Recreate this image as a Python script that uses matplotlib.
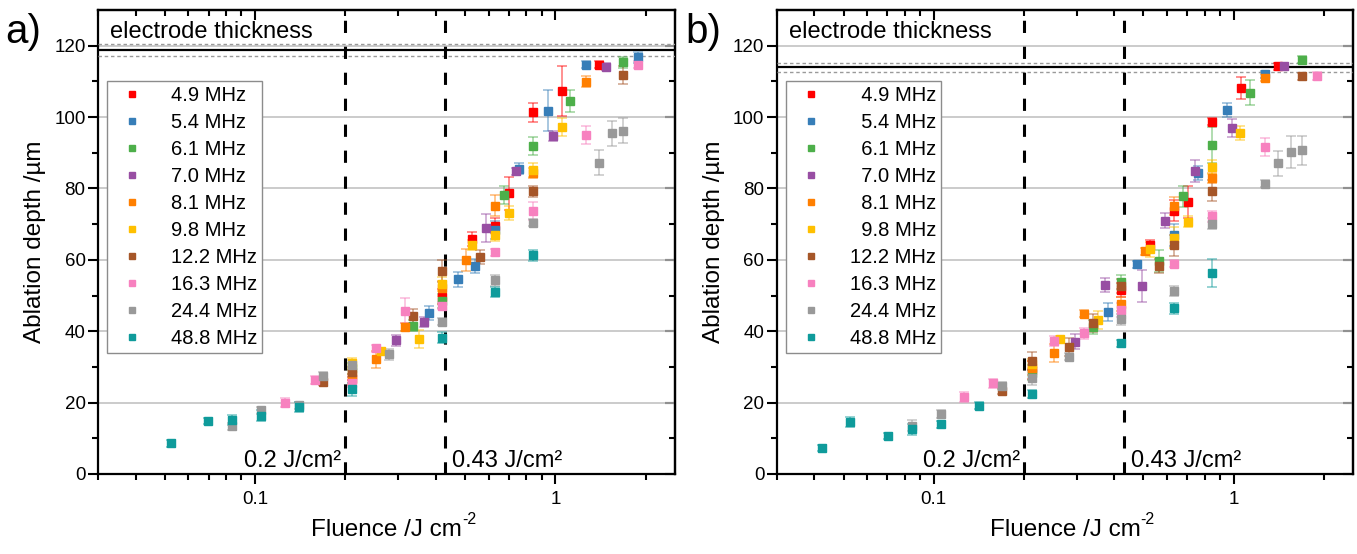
import numpy as np
import matplotlib
matplotlib.use('Agg')
import matplotlib.pyplot as plt
from matplotlib.lines import Line2D
from matplotlib.colors import to_rgba
from matplotlib.ticker import LogLocator, NullFormatter, FixedLocator

plt.rcParams['font.family'] = ['Liberation Sans', 'DejaVu Sans']

freq_labels = ['4.9 MHz', '5.4 MHz', '6.1 MHz', '7.0 MHz', '8.1 MHz',
               '9.8 MHz', '12.2 MHz', '16.3 MHz', '24.4 MHz', '48.8 MHz']
colors = ['#ff0000', '#377eb8', '#4daf4a', '#984ea3', '#ff7f00',
          '#ffc000', '#a65628', '#f781bf', '#999999', '#0f9b9b']
thresholds = [0.2, 0.43]
threshold_labels = ['0.2 J/cm²', '0.43 J/cm²']

# ---------------- panel a ----------------
a_f_49 = [0.21, 0.419, 0.526, 0.63, 0.70, 0.839, 1.05, 1.40]
a_d_49 = [26.5, 49.7, 65.9, 69.6, 78.6, 101.3, 107.2, 114.7]
a_e_49 = [1.5, 2.0, 2.0, 2.0, 4.5, 2.7, 7.0, 1.0]

a_f_54 = [0.379, 0.472, 0.541, 0.63, 0.756, 0.946, 1.26, 1.888]
a_d_54 = [45.1, 54.5, 58.3, 68.3, 85.5, 101.8, 114.7, 116.7]
a_e_54 = [2.0, 2.0, 2.0, 2.5, 1.5, 5.7, 1.0, 1.5]

a_f_61 = [0.21, 0.336, 0.419, 0.672, 0.839, 1.12, 1.683]
a_d_61 = [29.6, 41.6, 48.4, 78.2, 91.8, 104.5, 115.3]
a_e_61 = [1.5, 1.5, 2.0, 2.5, 2.5, 3.0, 1.5]

a_f_70 = [0.294, 0.366, 0.588, 0.737, 0.98, 1.474]
a_d_70 = [37.5, 42.6, 68.9, 84.8, 94.7, 114.1]
a_e_70 = [1.5, 1.5, 4.0, 1.0, 1.5, 1.0]

a_f_81 = [0.21, 0.252, 0.315, 0.419, 0.504, 0.63, 0.839, 1.26]
a_d_81 = [27.7, 32.1, 41.2, 52.0, 59.9, 75.2, 84.3, 109.9]
a_e_81 = [1.5, 2.5, 1.0, 2.0, 3.0, 3.0, 1.5, 1.5]

a_f_98 = [0.21, 0.262, 0.351, 0.419, 0.526, 0.63, 0.70, 0.839, 1.05]
a_d_98 = [31.0, 34.4, 37.8, 53.3, 64.2, 66.9, 73.1, 85.2, 97.2]
a_e_98 = [1.5, 1.0, 2.5, 2.0, 1.5, 1.5, 2.0, 2.0, 2.5]

a_f_122 = [0.168, 0.21, 0.336, 0.419, 0.56, 0.839, 1.683]
a_d_122 = [25.8, 28.6, 44.2, 56.9, 60.8, 79.2, 111.9]
a_e_122 = [1.0, 1.5, 2.0, 3.0, 2.0, 1.5, 2.5]

a_f_163 = [0.126, 0.158, 0.21, 0.252, 0.315, 0.419, 0.63, 0.839, 1.26, 1.888]
a_d_163 = [20.0, 26.3, 25.4, 35.2, 45.7, 47.2, 62.1, 73.8, 95.0, 114.7]
a_e_163 = [1.2, 1.2, 1.0, 1.0, 3.5, 1.0, 1.0, 2.5, 2.5, 1.0]

a_f_244 = [0.084, 0.105, 0.14, 0.168, 0.21, 0.28, 0.419, 0.63, 0.839, 1.40, 1.543, 1.683]
a_d_244 = [13.4, 17.9, 19.3, 27.5, 30.5, 33.5, 42.7, 54.3, 70.4, 87.2, 95.5, 96.2]
a_e_244 = [1.0, 1.0, 1.0, 1.0, 1.5, 1.5, 1.0, 1.5, 1.0, 3.5, 3.5, 3.5]

a_f_488 = [0.0523, 0.0697, 0.084, 0.105, 0.14, 0.21, 0.419, 0.63, 0.839]
a_d_488 = [8.6, 14.8, 15.1, 16.3, 18.8, 23.7, 38.2, 51.0, 61.3]
a_e_488 = [1.0, 0.8, 1.5, 1.5, 1.5, 1.8, 1.5, 1.5, 1.5]

a_thickness = 118.8
a_thickness_err = 1.7

# ---------------- panel b ----------------
b_f_49 = [0.212, 0.421, 0.527, 0.634, 0.705, 0.847, 1.057, 1.41]
b_d_49 = [29.1, 51.5, 64.2, 73.8, 76.1, 98.7, 108.1, 114.2]
b_e_49 = [2.5, 2.0, 1.5, 3.0, 4.5, 1.0, 3.0, 1.0]

b_f_54 = [0.38, 0.476, 0.634, 0.76, 0.95, 1.268]
b_d_54 = [45.3, 58.7, 67.0, 84.3, 102.0, 112.0]
b_e_54 = [2.5, 1.0, 3.0, 2.0, 2.0, 1.0]

b_f_61 = [0.212, 0.339, 0.421, 0.564, 0.678, 0.847, 1.13, 1.69]
b_d_61 = [28.4, 41.2, 53.8, 59.7, 77.8, 92.2, 106.8, 116.1]
b_e_61 = [2.0, 2.0, 2.0, 3.0, 3.0, 5.0, 3.5, 1.0]

b_f_70 = [0.296, 0.371, 0.493, 0.592, 0.741, 0.985, 1.475]
b_d_70 = [37.1, 53.0, 52.7, 71.0, 84.9, 97.0, 114.2]
b_e_70 = [2.0, 2.0, 4.5, 2.0, 3.0, 2.5, 1.0]

b_f_81 = [0.212, 0.252, 0.316, 0.421, 0.506, 0.634, 0.847, 1.268]
b_d_81 = [29.6, 33.9, 44.9, 47.6, 62.4, 75.2, 82.9, 111.0]
b_e_81 = [2.0, 2.5, 1.0, 2.0, 1.0, 2.5, 1.5, 1.0]

b_f_98 = [0.212, 0.264, 0.352, 0.527, 0.634, 0.705, 0.847, 1.052]
b_d_98 = [30.8, 37.8, 43.1, 62.9, 66.2, 70.7, 86.0, 95.5]
b_e_98 = [1.5, 1.0, 2.5, 2.0, 3.0, 1.5, 2.0, 2.0]

b_f_122 = [0.1685, 0.212, 0.282, 0.339, 0.421, 0.564, 0.634, 0.847, 1.69]
b_d_122 = [23.3, 31.6, 35.6, 42.3, 52.6, 58.3, 64.1, 79.4, 111.4]
b_e_122 = [1.0, 2.5, 2.5, 2.5, 2.0, 2.0, 3.0, 3.0, 1.0]

b_f_163 = [0.1265, 0.158, 0.252, 0.316, 0.421, 0.634, 0.847, 1.268, 1.9]
b_d_163 = [21.6, 25.4, 37.3, 39.4, 45.9, 58.9, 72.2, 91.7, 111.5]
b_e_163 = [1.5, 1.2, 1.5, 1.5, 2.0, 1.0, 1.5, 2.5, 1.0]

b_f_244 = [0.0847, 0.1057, 0.1685, 0.212, 0.282, 0.421, 0.634, 0.847, 1.268, 1.41, 1.553, 1.69]
b_d_244 = [13.5, 16.8, 24.7, 27.0, 32.8, 43.3, 51.3, 70.1, 81.3, 87.1, 90.2, 90.7]
b_e_244 = [1.5, 1.0, 1.0, 2.0, 1.0, 1.5, 1.5, 1.5, 1.0, 3.5, 4.5, 4.0]

b_f_488 = [0.0423, 0.0527, 0.0703, 0.0847, 0.1057, 0.141, 0.212, 0.421, 0.634, 0.847]
b_d_488 = [7.2, 14.6, 10.6, 12.5, 13.9, 19.1, 22.4, 36.6, 46.4, 56.3]
b_e_488 = [0.8, 1.5, 0.8, 1.5, 1.0, 1.0, 1.0, 1.0, 1.5, 4.0]

b_thickness = 113.9
b_thickness_err = 1.3

panel_a = [(a_f_49, a_d_49, a_e_49), (a_f_54, a_d_54, a_e_54), (a_f_61, a_d_61, a_e_61),
           (a_f_70, a_d_70, a_e_70), (a_f_81, a_d_81, a_e_81), (a_f_98, a_d_98, a_e_98),
           (a_f_122, a_d_122, a_e_122), (a_f_163, a_d_163, a_e_163),
           (a_f_244, a_d_244, a_e_244), (a_f_488, a_d_488, a_e_488)]
panel_b = [(b_f_49, b_d_49, b_e_49), (b_f_54, b_d_54, b_e_54), (b_f_61, b_d_61, b_e_61),
           (b_f_70, b_d_70, b_e_70), (b_f_81, b_d_81, b_e_81), (b_f_98, b_d_98, b_e_98),
           (b_f_122, b_d_122, b_e_122), (b_f_163, b_d_163, b_e_163),
           (b_f_244, b_d_244, b_e_244), (b_f_488, b_d_488, b_e_488)]

W, H = 1357, 554
fig = plt.figure(figsize=(W / 100, H / 100), dpi=100)
ax_a = fig.add_axes([98 / W, 1 - 474 / H, 577 / W, 464 / H])
ax_b = fig.add_axes([777 / W, 1 - 474 / H, 576 / W, 464 / H])

TICK_FS = 13.5
minor_subs = np.arange(2, 10) * 1.0
y_major = [0, 20, 40, 60, 80, 100, 120]
y_minor = [10, 30, 50, 70, 90, 110]


def draw_panel(ax, series, thick, thick_err, labels, tag, tag_x):
    ax.set_xscale('log')
    ax.set_xlim(0.03, 2.5)
    ax.set_ylim(0, 130)
    ax.yaxis.set_major_locator(FixedLocator(y_major))
    ax.yaxis.set_minor_locator(FixedLocator(y_minor))
    ax.xaxis.set_major_locator(FixedLocator([0.1, 1]))
    ax.set_xticklabels(['0.1', '1'])
    ax.xaxis.set_minor_locator(LogLocator(base=10, subs=minor_subs, numticks=20))
    ax.xaxis.set_minor_formatter(NullFormatter())
    ax.tick_params(which='both', direction='out', top=False, right=False,
                   width=1.5, labelsize=TICK_FS)
    ax.tick_params(axis='x', pad=5)
    ax.tick_params(axis='y', pad=2)
    ax.tick_params(which='major', length=7)
    ax.tick_params(which='minor', length=4)
    for sp in ax.spines.values():
        sp.set_linewidth(1.6)
    ax.grid(axis='y', which='major', color='#bdbdbd', lw=1.1, zorder=0)
    ax.set_axisbelow(True)

    # mirrored inward ticks on top and right
    top = ax.secondary_xaxis('top')
    top.xaxis.set_major_locator(FixedLocator([0.1, 1]))
    top.xaxis.set_minor_locator(LogLocator(base=10, subs=minor_subs, numticks=20))
    top.xaxis.set_major_formatter(NullFormatter())
    top.xaxis.set_minor_formatter(NullFormatter())
    top.tick_params(which='both', direction='in', width=1.5)
    top.tick_params(which='major', length=7)
    top.tick_params(which='minor', length=4)
    top.spines['top'].set_linewidth(1.6)
    right = ax.secondary_yaxis('right')
    right.yaxis.set_major_locator(FixedLocator(y_major))
    right.yaxis.set_minor_locator(FixedLocator(y_minor))
    right.yaxis.set_major_formatter(NullFormatter())
    right.tick_params(which='both', direction='in', width=1.5)
    right.tick_params(which='major', length=7)
    right.tick_params(which='minor', length=4)
    right.spines['right'].set_linewidth(1.6)

    # electrode thickness
    ax.axhline(thick, color='black', lw=1.6, zorder=3)
    ax.axhline(thick + thick_err, color='#9a9a9a', lw=1.0, ls=(0, (2.5, 2)), zorder=3)
    ax.axhline(thick - thick_err, color='#9a9a9a', lw=1.0, ls=(0, (2.5, 2)), zorder=3)
    ax.text(0.021, 0.953, 'electrode thickness', transform=ax.transAxes,
            fontsize=17, ha='left', va='center', zorder=5)

    # thresholds
    for xv in thresholds:
        ax.axvline(xv, color='black', lw=2.2, ls=(0, (4, 4.5)), zorder=4)
    ax.text(thresholds[0] * 0.97, 2.0, threshold_labels[0], fontsize=17,
            ha='right', va='baseline', zorder=5)
    ax.text(thresholds[1] * 1.055, 2.0, threshold_labels[1], fontsize=17,
            ha='left', va='baseline', zorder=5)

    # data
    for (f, d, e), c in zip(series, colors):
        ax.errorbar(f, d, yerr=e, fmt='s', color=c, mec=c, ms=6.2,
                    ecolor=to_rgba(c, 0.55), elinewidth=1.1, capsize=3.8,
                    capthick=1.1, zorder=6)

    handles = [Line2D([], [], ls='none', marker='s', color=c, mec=c, ms=5)
               for c in colors]
    leg = ax.legend(handles, labels, loc='upper left',
                    bbox_to_anchor=(0.016, 0.848), fontsize=14.5,
                    frameon=True, fancybox=False, edgecolor='#8c8c8c',
                    framealpha=1, borderpad=0.25, labelspacing=0.4,
                    handlelength=2.0, handletextpad=0.9, borderaxespad=0)
    leg.get_frame().set_linewidth(1.0)
    leg.set_zorder(7)

    xl = ax.set_xlabel('Fluence /J cm', fontsize=17.5, labelpad=8)
    ax.annotate('-2', xy=(1.0, 0.95), xycoords=xl, fontsize=11.5,
                ha='left', va='center')
    ax.set_ylabel('Ablation depth /µm', fontsize=17.5, labelpad=6)
    fig.text(tag_x, 0.942, tag, fontsize=29, ha='left', va='center')


labels_b = [('  ' + l if len(l) < 8 else l) for l in freq_labels]
draw_panel(ax_a, panel_a, a_thickness, a_thickness_err, freq_labels, 'a)', 0.004)
draw_panel(ax_b, panel_b, b_thickness, b_thickness_err, labels_b, 'b)', 0.505)

fig.savefig('out.png', dpi=100)
